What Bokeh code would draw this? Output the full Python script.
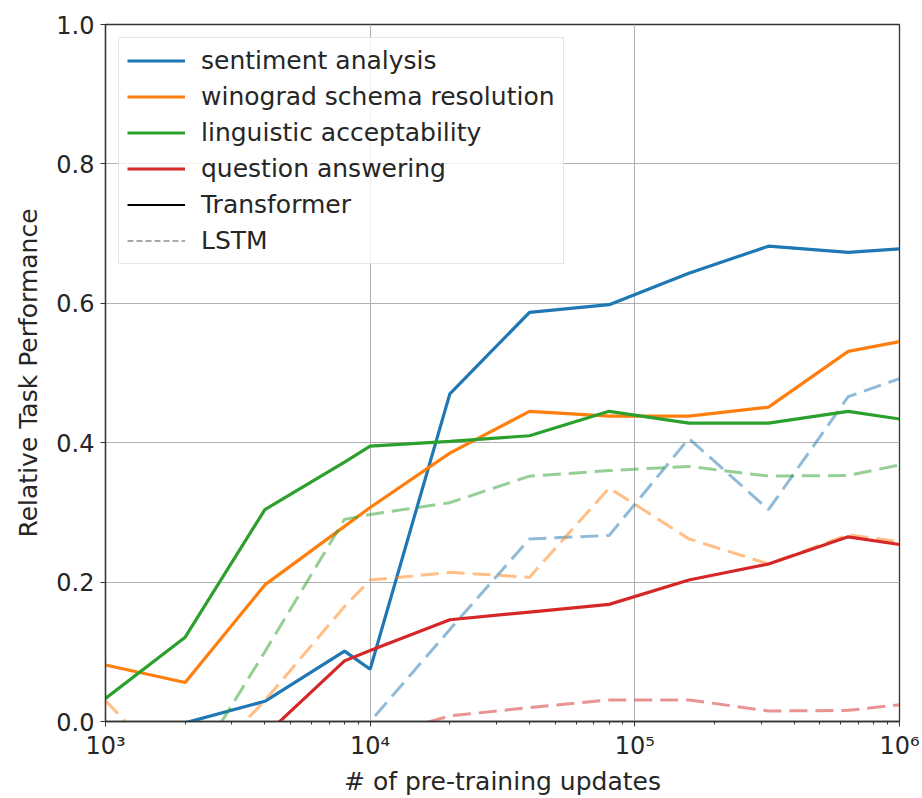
from bokeh.plotting import figure
from bokeh.models import (FixedTicker, PrintfTickFormatter, Legend, LegendItem,
                          Range1d)
from bokeh.embed import file_html
from bokeh.resources import INLINE

# ---------------- data ----------------
updates = [1000, 2000, 4000, 8000, 10000, 20000, 40000, 80000,
           160000, 320000, 640000, 1000000]

tasks = ["sentiment analysis", "winograd schema resolution",
         "linguistic acceptability", "question answering"]
colors = ["#1f77b4", "#ff7f0e", "#2ca02c", "#d62728"]

# Transformer (solid)
sentiment_tf = [-0.04, -0.002, 0.029, 0.101, 0.075, 0.470, 0.587, 0.598, 0.643, 0.682, 0.673, 0.678]
winograd_tf = [0.081, 0.056, 0.196, 0.280, 0.307, 0.385, 0.445, 0.438, 0.438, 0.451, 0.531, 0.545]
linguistic_tf = [0.033, 0.121, 0.304, 0.372, 0.395, 0.402, 0.410, 0.445, 0.428, 0.428, 0.445, 0.434]
qa_tf = [-0.12, -0.07, -0.02, 0.087, 0.102, 0.146, 0.157, 0.168, 0.203, 0.226, 0.265, 0.254]

# LSTM (dashed)
sentiment_lstm = [-0.40, -0.35, -0.30, -0.10, 0.0, 0.132, 0.262, 0.267, 0.406, 0.304, 0.466, 0.492]
winograd_lstm = [0.030, -0.090, 0.030, 0.165, 0.203, 0.214, 0.207, 0.335, 0.262, 0.226, 0.268, 0.258]
linguistic_lstm = [-0.25, -0.085, 0.100, 0.290, 0.297, 0.314, 0.352, 0.360, 0.366, 0.352, 0.353, 0.368]
qa_lstm = [-0.30, -0.20, -0.15, -0.06, -0.024, 0.008, 0.020, 0.031, 0.031, 0.015, 0.016, 0.024]

transformer_series = [sentiment_tf, winograd_tf, linguistic_tf, qa_tf]
lstm_series = [sentiment_lstm, winograd_lstm, linguistic_lstm, qa_lstm]

x_tick_values = [1000, 10000, 100000, 1000000]
x_tick_labels = ["10\u00b3", "10\u2074", "10\u2075", "10\u2076"]
y_tick_values = [0.0, 0.2, 0.4, 0.6, 0.8, 1.0]

# ---------------- figure ----------------
FONT = "DejaVu Sans"
TXT = "#262626"

p = figure(width=922, height=798, x_axis_type="log",
           x_range=Range1d(1000, 1000000), y_range=Range1d(0, 1),
           output_backend="svg", toolbar_location=None,
           min_border_left=105, min_border_right=23,
           min_border_top=24, min_border_bottom=73)
p.background_fill_color = "white"
p.border_fill_color = "white"
p.outline_line_color = "#333333"
p.outline_line_width = 1.3

solid_renderers = []
for name, col, tf, ls in zip(tasks, colors, transformer_series, lstm_series):
    r = p.line(updates, tf, line_color=col, line_width=3.2)
    solid_renderers.append(r)
    p.line(updates, ls, line_color=col, line_width=3.0, line_alpha=0.5,
           line_dash="18 8")

# legend-only style samples (no visible data: NaN values)
nan_pair = [float("nan"), float("nan")]
tr_dummy = p.line(x=updates[:2], y=nan_pair, line_color="black", line_width=2)
lstm_dummy = p.line(x=updates[:2], y=nan_pair, line_color="black", line_width=1.6,
                    line_alpha=0.45, line_dash="6 3")

items = [LegendItem(label=t, renderers=[r]) for t, r in zip(tasks, solid_renderers)]
items.append(LegendItem(label="Transformer", renderers=[tr_dummy]))
items.append(LegendItem(label="LSTM", renderers=[lstm_dummy]))

legend = Legend(items=items, location="top_left",
                label_text_font=FONT, label_text_font_size="25px",
                label_text_color=TXT,
                glyph_width=58, glyph_height=29, label_height=29,
                label_standoff=16, spacing=7, padding=8, margin=13,
                border_line_color="#cccccc", border_line_width=1.2,
                background_fill_color="white", background_fill_alpha=0.8)
p.add_layout(legend)

# ---------------- axes ----------------
minor = [m * 10 ** k for k in (3, 4, 5) for m in range(2, 10)]
p.xaxis.ticker = FixedTicker(ticks=x_tick_values, minor_ticks=minor)
p.xaxis.major_label_overrides = {v: l for v, l in zip(x_tick_values, x_tick_labels)}
p.yaxis.ticker = FixedTicker(ticks=y_tick_values)
p.yaxis.formatter = PrintfTickFormatter(format="%.1f")

for ax in (p.xaxis, p.yaxis):
    ax.axis_line_color = "#333333"
    ax.axis_line_width = 1.3
    ax.major_tick_line_color = "#333333"
    ax.major_tick_out = 5
    ax.major_tick_in = 0
    ax.minor_tick_line_color = "#333333"
    ax.minor_tick_out = 3
    ax.minor_tick_in = 0
    ax.major_label_text_font = FONT
    ax.major_label_text_font_size = "24px"
    ax.major_label_text_color = TXT
    ax.axis_label_text_font = FONT
    ax.axis_label_text_font_size = "25px"
    ax.axis_label_text_font_style = "normal"
    ax.axis_label_text_color = TXT

p.yaxis.minor_tick_line_color = None
p.xaxis.axis_label = "# of pre-training updates"
p.yaxis.axis_label = "Relative Task Performance"
p.xaxis.major_label_standoff = 5
p.xaxis.axis_label_standoff = 4
p.yaxis.major_label_standoff = 6
p.yaxis.axis_label_standoff = 10

p.xgrid.grid_line_color = "#b0b0b0"
p.ygrid.grid_line_color = "#b0b0b0"
p.xgrid.grid_line_width = 1
p.ygrid.grid_line_width = 1

open("out.html", "w").write(file_html(p, INLINE))
